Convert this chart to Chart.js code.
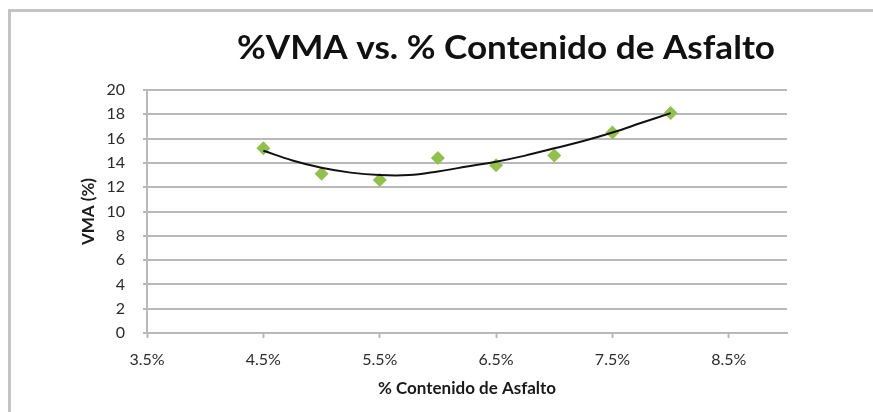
<!DOCTYPE html>
<html>
<head>
<meta charset="utf-8">
<script src="https://cdn.jsdelivr.net/npm/chart.js@4"></script>
<style>
  body { margin: 0; background: #fff; }
</style>
</head>
<body>
<canvas id="chart" width="873" height="412"></canvas>
<script>
// asphalt content (%) and measured VMA (%)
const asphalt = [4.5, 5.0, 5.5, 6.0, 6.5, 7.0, 7.5, 8.0];
const vma = [15.2, 13.1, 12.6, 14.4, 13.8, 14.6, 16.5, 18.1];

// trend line
const trendX = [4.5, 4.75, 5.0, 5.25, 5.5, 5.75, 6.0, 6.25, 6.5, 6.75, 7.0, 7.25, 7.5, 7.75, 8.0];
const trendY = [15.0, 14.2, 13.6, 13.2, 13.0, 13.0, 13.3, 13.7, 14.1, 14.6, 15.2, 15.8, 16.5, 17.3, 18.1];

const xTicks = [3.5, 4.5, 5.5, 6.5, 7.5, 8.5];
const yTicks = [0, 2, 4, 6, 8, 10, 12, 14, 16, 18, 20];

const titleText = '%VMA vs. % Contenido de Asfalto';
const gridGray = '#b9b9b9';
const font = 'Lato, "Liberation Sans", sans-serif';

// frame + title drawn by hand so the title can sit off-centre like the original
const decor = {
  id: 'decor',
  beforeDraw(chart) {
    const c = chart.ctx;
    c.save();
    c.fillStyle = '#fff';
    c.fillRect(0, 0, chart.width, chart.height);
    c.strokeStyle = '#c4c4c4';
    c.lineWidth = 3;
    c.strokeRect(9.5, 10.5, chart.width + 20, chart.height + 20);
    c.restore();
  },
  afterDraw(chart) {
    const c = chart.ctx;
    c.save();
    c.font = 'bold 32px ' + font;
    c.fillStyle = '#111';
    c.textAlign = 'center';
    c.textBaseline = 'middle';
    // original text is a bit wider than Lato, stretch it to the same span
    const w = c.measureText(titleText).width;
    const sx = 538 / w;
    c.translate(506, 49);
    c.scale(sx, 1);
    c.fillText(titleText, 0, 0);
    c.restore();
  }
};

new Chart(document.getElementById('chart'), {
  type: 'scatter',
  data: {
    datasets: [
      {
        label: 'Tendencia',
        data: trendX.map((x, i) => ({ x: x, y: trendY[i] })),
        showLine: true,
        borderColor: '#111',
        borderWidth: 2,
        pointRadius: 0,
        tension: 0.4,
        order: 0
      },
      {
        label: 'VMA',
        data: asphalt.map((x, i) => ({ x: x, y: vma[i] })),
        pointStyle: 'rectRot',
        pointRadius: 7,
        backgroundColor: '#92bf4e',
        borderColor: '#92bf4e',
        borderWidth: 0,
        order: 1
      }
    ]
  },
  options: {
    responsive: false,
    animation: false,
    layout: { padding: { top: 90, right: 86, bottom: 13, left: 76 } },
    plugins: {
      legend: { display: false },
      title: { display: false },
      tooltip: { enabled: false }
    },
    scales: {
      x: {
        type: 'linear',
        min: 3.5,
        max: 9.0,
        afterBuildTicks: (scale) => { scale.ticks = xTicks.map(v => ({ value: v })); },
        afterFit: (scale) => { scale.height = 66; },
        grid: {
          drawOnChartArea: false,
          drawTicks: true,
          tickLength: 5,
          tickColor: gridGray,
          tickWidth: 2
        },
        border: { color: gridGray, width: 2 },
        ticks: {
          padding: 12,
          color: '#2b2b2b',
          font: { family: font, size: 16 },
          callback: (v) => v.toFixed(1) + '%'
        },
        title: {
          display: true,
          text: '% Contenido de Asfalto',
          color: '#1a1a1a',
          padding: { top: 2, bottom: 0 },
          font: { family: font, size: 17, weight: 'bold' }
        }
      },
      y: {
        min: 0,
        max: 20,
        afterBuildTicks: (scale) => { scale.ticks = yTicks.map(v => ({ value: v })); },
        afterFit: (scale) => { scale.width = 71; },
        grid: {
          color: gridGray,
          lineWidth: 2,
          drawTicks: true,
          tickLength: 4
        },
        border: { color: gridGray, width: 2 },
        ticks: {
          padding: 18,
          color: '#2b2b2b',
          font: { family: font, size: 16 }
        },
        title: {
          display: true,
          text: 'VMA (%)',
          color: '#1a1a1a',
          padding: { top: 2, bottom: 0 },
          font: { family: font, size: 17, weight: 'bold' }
        }
      }
    }
  },
  plugins: [decor]
});
</script>
</body>
</html>
